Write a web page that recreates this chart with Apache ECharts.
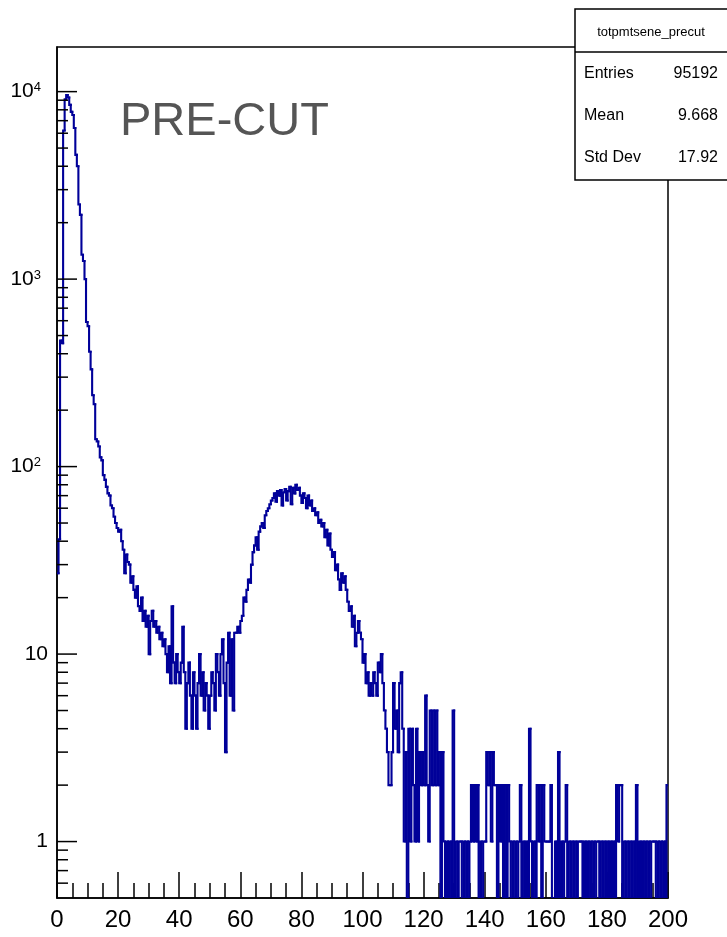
<!DOCTYPE html>
<html><head><meta charset="utf-8">
<script src="https://cdn.jsdelivr.net/npm/echarts@6/dist/echarts.min.js"></script>
<style>html,body{margin:0;padding:0;background:#fff}#c{width:727px;height:937px}</style>
</head><body><div id="c"></div>
<script>
// Histogram "totpmtsene_precut": 400 bins of width 0.5 over 0..200
const binWidth = 0.5;
// bins 0-99  (x 0 .. 50)
const countsA = [
  27, 41, 470, 455, 6200, 9100, 9600, 9300, 8500, 7800,
  7500, 6400, 4600, 4000, 2500, 2200, 1350, 1250, 1000, 590,
  560, 410, 330, 240, 215, 140, 136, 128, 112, 108,
  90, 85, 78, 72, 70, 62, 60, 54, 50, 47,
  45, 46, 40, 36, 27, 34, 31, 30, 24, 26,
  22, 20, 23, 18, 17, 20, 15, 17, 14, 16,
  10, 15, 17, 14, 15, 13, 14, 12, 13, 11,
  12, 10, 8, 11, 7, 18, 9, 7, 10, 8,
  7, 9, 14, 8, 4, 7, 9, 6, 4, 8,
  6, 4, 7, 10, 6, 8, 5, 7, 6, 4
];
// bins 100-199 (x 50 .. 100)
const countsB = [
  6, 8, 7, 5, 10, 8, 6, 10, 12, 7,
  3, 9, 13, 6, 12, 5, 13, 13, 14, 13,
  15, 16, 20, 19, 22, 25, 24, 30, 35, 38,
  42, 36, 45, 48, 50, 47, 55, 58, 60, 63,
  66, 68, 72, 65, 74, 70, 75, 62, 73, 76,
  66, 74, 78, 63, 77, 72, 80, 75, 77, 70,
  64, 72, 68, 60, 70, 62, 66, 58, 60, 55,
  57, 50, 52, 48, 50, 42, 46, 38, 44, 36,
  33, 35, 28, 30, 25, 22, 27, 24, 26, 22,
  19, 17, 18, 14, 16, 11, 13, 15, 13, 12
];
// bins 200-299 (x 100 .. 150)
const countsC = [
  9, 10, 7, 8, 6, 7, 6, 8, 7, 6,
  9, 8, 10, 7, 5, 4, 3, 2, 2, 3,
  7, 4, 5, 3, 7, 8, 4, 1, 3, 0,
  4, 1, 4, 2, 1, 4, 1, 3, 2, 3,
  2, 6, 2, 1, 5, 2, 5, 2, 5, 2,
  3, 0, 3, 1, 0, 1, 0, 1, 0, 5,
  0, 1, 0, 1, 1, 0, 1, 0, 1, 0,
  1, 2, 1, 2, 1, 2, 0, 1, 0, 1,
  1, 3, 2, 3, 1, 3, 2, 2, 0, 2,
  1, 2, 0, 2, 0, 2, 1, 0, 1, 0
];
// bins 300-399 (x 150 .. 200)
const countsD = [
  1, 0, 1, 2, 0, 1, 0, 1, 0, 4,
  1, 0, 1, 0, 2, 1, 2, 0, 2, 1,
  1, 1, 1, 2, 0, 0, 1, 0, 3, 0,
  1, 0, 1, 2, 0, 1, 0, 1, 0, 1,
  0, 1, 1, 1, 0, 1, 0, 1, 0, 1,
  0, 1, 0, 1, 1, 0, 1, 0, 1, 0,
  1, 0, 1, 0, 1, 0, 2, 1, 2, 2,
  0, 1, 0, 1, 0, 1, 0, 1, 0, 2,
  0, 1, 0, 1, 0, 1, 0, 1, 0, 1,
  1, 1, 0, 1, 0, 1, 0, 1, 0, 2
];
const yDecades = [1, 10, 100, 1000, 10000];
const yMinorMultipliers = [2, 3, 4, 5, 6, 7, 8, 9];
const statTitle = 'totpmtsene_precut';
const statNames = ['Entries', 'Mean', 'Std Dev'];
const statValues = ['95192', '9.668', '17.92'];
const overlayText = 'PRE-CUT';

const Y_MIN = 0.5, Y_MAX = 17300, X_MIN = 0, X_MAX = 200;
const FONT = '"Liberation Sans", Arial, Helvetica, sans-serif';
const LINE_COLOR = '#000099';

const counts = countsA.concat(countsB, countsC, countsD);
// one item per bin: [lowEdge, highEdge, count, previousCount]
const histItems = counts.map((c, i) => [X_MIN + i * binWidth, X_MIN + (i + 1) * binWidth, c, i > 0 ? counts[i - 1] : c]);

// y tick marks (ROOT style: decades long, 2..9 short)
const yTickData = [];
yDecades.forEach(d => yTickData.push([0, d, 1]));
[0.1].concat(yDecades).forEach(d => {
  yMinorMultipliers.forEach(m => {
    const v = +(d * m).toPrecision(6);
    if (v > Y_MIN && v < Y_MAX && yDecades.indexOf(v) < 0) yTickData.push([0, v, 0]);
  });
});

const chart = echarts.init(document.getElementById('c'), null, {renderer: 'canvas'});
chart.setOption({
  animation: false,
  backgroundColor: '#ffffff',
  grid: {left: 57, right: 59, top: 47, bottom: 39, show: true, borderColor: '#000', borderWidth: 1.5, backgroundColor: 'transparent'},
  xAxis: {
    type: 'value', min: X_MIN, max: X_MAX, interval: 20,
    axisLine: {show: true, onZero: false, lineStyle: {color: '#000', width: 1.5}},
    axisTick: {show: true, inside: true, length: 26, lineStyle: {color: '#000', width: 1.5}},
    minorTick: {show: true, splitNumber: 4, length: 15, lineStyle: {color: '#000', width: 1.5}},
    splitLine: {show: false}, minorSplitLine: {show: false},
    axisLabel: {color: '#000', fontSize: 24, fontFamily: FONT, margin: 10}
  },
  yAxis: {
    type: 'log', logBase: 10, min: Y_MIN, max: Y_MAX,
    axisLine: {show: true, onZero: false, lineStyle: {color: '#000', width: 1.5}},
    axisTick: {show: false}, minorTick: {show: false},
    splitLine: {show: false}, minorSplitLine: {show: false},
    axisLabel: {
      color: '#000', fontSize: 21, fontFamily: FONT, margin: 9,
      formatter: function (v) {
        const e = Math.log10(v);
        const r = Math.round(e);
        if (Math.abs(e - r) > 1e-6) return '';
        if (r === 0) return '1';
        if (r === 1) return '10';
        return '{b|10}{s|' + r + '}';
      },
      rich: {
        b: {fontSize: 21, lineHeight: 21, fontFamily: FONT, color: '#000', verticalAlign: 'bottom'},
        s: {fontSize: 13, lineHeight: 13, fontFamily: FONT, color: '#000', verticalAlign: 'top', padding: [0, 7, 10, 0]}
      }
    }
  },
  series: [
    {
      type: 'custom', data: histItems, encode: {x: 0, y: 2}, z: 3, silent: true, clip: true,
      renderItem: function (params, api) {
        const x0 = api.value(0), x1 = api.value(1);
        const c = api.value(2), cp = api.value(3);
        const yv = c > 0 ? c : Y_MIN;      // empty bins drop to the frame bottom
        const yp = cp > 0 ? cp : Y_MIN;
        const a = api.coord([x0, yp]);
        const b = api.coord([x0, yv]);
        const d = api.coord([x1, yv]);
        const pts = params.dataIndex === 0 ? [b, d] : [a, b, d];
        return {type: 'polyline', shape: {points: pts},
          style: {stroke: LINE_COLOR, lineWidth: 2.1, fill: null, lineJoin: 'miter', lineCap: 'square'}};
      }
    },
    {
      type: 'custom', data: yTickData, encode: {x: 0, y: 1}, z: 4, silent: true, clip: false,
      renderItem: function (params, api) {
        const p = api.coord([0, api.value(1)]);
        const len = api.value(2) ? 20 : 11;
        return {type: 'line', shape: {x1: p[0], y1: p[1], x2: p[0] + len, y2: p[1]}, style: {stroke: '#000', lineWidth: 1.5}};
      }
    }
  ],
  graphic: [
    {type: 'text', x: 120, y: 122, z: 50, style: {text: overlayText, fontSize: 47, fontFamily: FONT, fill: '#555555', verticalAlign: 'middle', align: 'left'}},
    {type: 'rect', z: 100, shape: {x: 575, y: 9, width: 170, height: 171}, style: {fill: '#fff', stroke: '#000', lineWidth: 1.5}},
    {type: 'line', z: 101, shape: {x1: 575, y1: 52, x2: 727, y2: 52}, style: {stroke: '#000', lineWidth: 1.5}},
    {type: 'text', z: 101, x: 651, y: 32, style: {text: statTitle, fontSize: 13, fontFamily: FONT, fill: '#000', align: 'center', verticalAlign: 'middle'}},
    {type: 'text', z: 101, x: 584, y: 74, style: {text: statNames[0], fontSize: 16, fontFamily: FONT, fill: '#000', align: 'left', verticalAlign: 'middle'}},
    {type: 'text', z: 101, x: 718, y: 74, style: {text: statValues[0], fontSize: 16, fontFamily: FONT, fill: '#000', align: 'right', verticalAlign: 'middle'}},
    {type: 'text', z: 101, x: 584, y: 116, style: {text: statNames[1], fontSize: 16, fontFamily: FONT, fill: '#000', align: 'left', verticalAlign: 'middle'}},
    {type: 'text', z: 101, x: 718, y: 116, style: {text: statValues[1], fontSize: 16, fontFamily: FONT, fill: '#000', align: 'right', verticalAlign: 'middle'}},
    {type: 'text', z: 101, x: 584, y: 158, style: {text: statNames[2], fontSize: 16, fontFamily: FONT, fill: '#000', align: 'left', verticalAlign: 'middle'}},
    {type: 'text', z: 101, x: 718, y: 158, style: {text: statValues[2], fontSize: 16, fontFamily: FONT, fill: '#000', align: 'right', verticalAlign: 'middle'}}
  ]
});
</script>
</body></html>
